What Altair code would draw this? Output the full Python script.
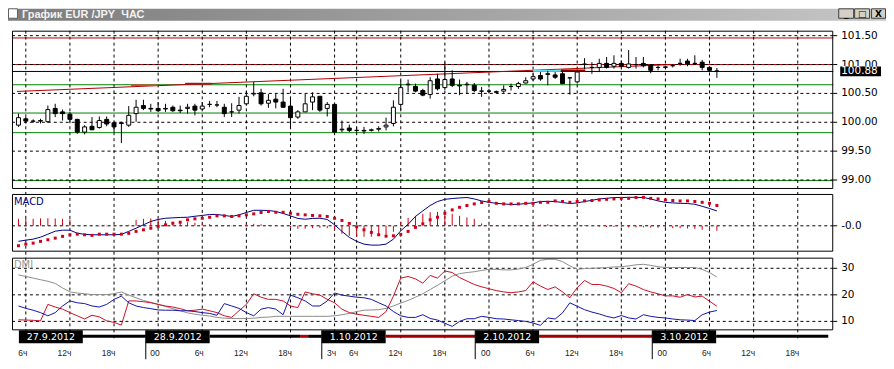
import altair as alt
import pandas as pd

W, H = 882, 353

# ---------------- data ----------------
slot = list(range(-1, 95))  # hourly bar index

open_p = [
    99.95, 100.06, 100.02, 100.02, 100.01, 100.24, 100.18, 100.14, 100.05, 99.83,
    99.93, 99.91, 100.05, 99.99, 99.99, 99.95, 100.15, 100.29, 100.24, 100.24,
    100.23, 100.26, 100.21, 100.24, 100.28, 100.23, 100.31, 100.30, 100.26, 100.18,
    100.21, 100.32, 100.49, 100.51, 100.33, 100.40, 100.35, 100.28, 100.09, 100.18,
    100.35, 100.45, 100.24, 100.31, 99.87, 99.90, 99.86, 99.85, 99.86, 99.88,
    99.92, 99.98, 100.31, 100.65, 100.62, 100.55, 100.48, 100.75, 100.60, 100.75,
    100.64, 100.65, 100.64, 100.54, 100.54, 100.53, 100.54, 100.62, 100.62, 100.68,
    100.75, 100.81, 100.84, 100.82, 100.84, 100.77, 100.70, 101.00, 100.95, 100.95,
    101.02, 100.97, 101.02, 100.95, 101.00, 101.02, 100.99, 100.95, 100.95, 100.98,
    101.02, 101.06, 101.02, 101.04, 100.95, 100.89]
high_p = [
    100.15, 100.09, 100.05, 100.06, 100.29, 100.32, 100.22, 100.18, 100.06, 99.95,
    100.09, 100.10, 100.10, 100.01, 100.01, 100.28, 100.39, 100.39, 100.32, 100.35,
    100.32, 100.29, 100.29, 100.32, 100.32, 100.35, 100.37, 100.37, 100.32, 100.33,
    100.44, 100.54, 100.70, 100.58, 100.49, 100.49, 100.58, 100.44, 100.21, 100.49,
    100.52, 100.45, 100.35, 100.31, 100.03, 99.96, 99.92, 99.92, 99.89, 99.93,
    100.08, 100.38, 100.72, 100.74, 100.67, 100.58, 100.78, 100.84, 101.04, 100.90,
    100.74, 100.70, 100.68, 100.61, 100.58, 100.55, 100.64, 100.67, 100.70, 100.78,
    100.84, 100.87, 100.89, 100.87, 100.87, 100.78, 100.89, 101.11, 101.04, 101.10,
    101.13, 101.16, 101.07, 101.25, 101.13, 101.13, 101.01, 100.98, 100.98, 101.01,
    101.10, 101.10, 101.16, 101.08, 100.97, 100.94]
low_p = [
    99.92, 99.98, 99.99, 99.98, 99.99, 100.09, 100.03, 100.01, 99.80, 99.79,
    99.89, 99.89, 99.93, 99.83, 99.64, 99.92, 100.01, 100.21, 100.18, 100.18,
    100.18, 100.18, 100.16, 100.15, 100.12, 100.21, 100.26, 100.26, 100.09, 100.09,
    100.15, 100.29, 100.45, 100.29, 100.25, 100.24, 100.25, 99.89, 100.06, 100.18,
    100.21, 100.18, 100.10, 99.83, 99.83, 99.83, 99.83, 99.80, 99.84, 99.84,
    99.86, 99.93, 100.21, 100.52, 100.52, 100.45, 100.41, 100.55, 100.56, 100.61,
    100.47, 100.49, 100.52, 100.44, 100.51, 100.51, 100.51, 100.55, 100.58, 100.67,
    100.72, 100.72, 100.64, 100.75, 100.66, 100.48, 100.67, 100.92, 100.84, 100.87,
    100.93, 100.93, 100.95, 100.93, 100.93, 100.95, 100.85, 100.90, 100.93, 100.95,
    100.98, 100.97, 101.00, 100.90, 100.87, 100.77]
close_p = [
    100.08, 100.02, 100.02, 100.03, 100.22, 100.15, 100.15, 100.05, 99.83, 99.92,
    99.87, 100.03, 99.97, 99.92, 99.98, 100.12, 100.26, 100.24, 100.23, 100.20,
    100.24, 100.20, 100.20, 100.26, 100.21, 100.28, 100.31, 100.30, 100.15, 100.18,
    100.29, 100.45, 100.50, 100.32, 100.38, 100.35, 100.26, 100.08, 100.18, 100.32,
    100.44, 100.21, 100.31, 99.83, 99.88, 99.86, 99.86, 99.86, 99.87, 99.89,
    99.95, 100.26, 100.60, 100.66, 100.54, 100.47, 100.72, 100.58, 100.74, 100.64,
    100.63, 100.66, 100.55, 100.54, 100.54, 100.52, 100.57, 100.62, 100.67, 100.72,
    100.79, 100.75, 100.83, 100.78, 100.67, 100.77, 100.87, 101.01, 100.95, 101.02,
    100.95, 101.02, 100.97, 101.01, 101.00, 100.98, 100.90, 100.95, 100.96, 100.98,
    101.02, 101.01, 101.02, 100.95, 100.90, 100.88]

macd = [
    -0.078, -0.072, -0.067, -0.057, -0.042, -0.027, -0.022, -0.022, -0.037, -0.043,
    -0.045, -0.045, -0.045, -0.045, -0.043, -0.028, -0.012, 0.005, 0.022, 0.032,
    0.038, 0.040, 0.042, 0.043, 0.048, 0.052, 0.057, 0.057, 0.052, 0.047,
    0.055, 0.067, 0.078, 0.078, 0.077, 0.072, 0.062, 0.050, 0.037, 0.033,
    0.037, 0.038, 0.032, 0.005, -0.028, -0.058, -0.078, -0.092, -0.097, -0.097,
    -0.092, -0.067, -0.025, 0.008, 0.047, 0.075, 0.102, 0.122, 0.133, 0.137,
    0.140, 0.142, 0.135, 0.125, 0.118, 0.113, 0.110, 0.107, 0.108, 0.112,
    0.115, 0.122, 0.123, 0.122, 0.117, 0.112, 0.115, 0.122, 0.128, 0.135,
    0.138, 0.142, 0.142, 0.143, 0.143, 0.142, 0.135, 0.125, 0.118, 0.115,
    0.113, 0.112, 0.108, 0.098, 0.087, 0.075]
signal = [
    -0.100, -0.092, -0.087, -0.078, -0.070, -0.062, -0.053, -0.045, -0.042, -0.045,
    -0.048, -0.042, -0.042, -0.042, -0.042, -0.038, -0.028, -0.020, -0.012, -0.003,
    0.005, 0.013, 0.018, 0.030, 0.035, 0.038, 0.043, 0.050, 0.050, 0.047,
    0.050, 0.055, 0.060, 0.067, 0.072, 0.068, 0.068, 0.063, 0.058, 0.055,
    0.052, 0.050, 0.047, 0.038, 0.027, 0.012, -0.005, -0.020, -0.033, -0.045,
    -0.052, -0.050, -0.043, -0.028, -0.008, 0.010, 0.030, 0.043, 0.063, 0.080,
    0.093, 0.102, 0.110, 0.117, 0.122, 0.113, 0.110, 0.110, 0.110, 0.113,
    0.113, 0.118, 0.118, 0.125, 0.122, 0.118, 0.122, 0.125, 0.127, 0.130,
    0.133, 0.135, 0.138, 0.138, 0.142, 0.143, 0.138, 0.135, 0.130, 0.127,
    0.125, 0.125, 0.122, 0.118, 0.113, 0.102]
hist = [
    0.035, 0.037, 0.035, 0.037, 0.038, 0.037, 0.035, 0.032, 0.003, 0.002,
    0.002, -0.002, -0.002, -0.002, -0.001, 0.005, 0.030, 0.035, 0.037, 0.035,
    0.025, 0.020, 0.020, 0.018, 0.015, 0.010, 0.008, 0.005, 0.002, -0.002,
    0.003, 0.008, 0.010, 0.008, 0.004, 0.002, -0.004, -0.010, -0.015, -0.015,
    -0.012, -0.010, -0.012, -0.020, -0.040, -0.050, -0.055, -0.055, -0.055, -0.050,
    -0.045, -0.030, 0.020, 0.040, 0.050, 0.060, 0.068, 0.070, 0.070, 0.060,
    0.050, 0.042, 0.035, 0.012, 0.005, 0.003, 0.002, 0.002, 0.003, 0.004,
    0.005, 0.006, 0.008, 0.006, 0.003, 0.002, 0.002, 0.003, 0.002, -0.004,
    -0.006, -0.006, -0.007, -0.008, -0.008, -0.008, -0.009, -0.010, -0.011, -0.012,
    -0.012, -0.013, -0.015, -0.020, -0.025, -0.025]

adx = [
    27.5, 26.9, 26.3, 25.7, 25.1, 24.3, 22.6, 21.1, 20.7, 20.4,
    20.1, 20.1, 20.1, 20.4, 21.1, 19.9, 18.9, 17.9, 17.2, 16.4,
    15.6, 14.8, 14.0, 13.2, 12.7, 12.3, 12.0, 11.5, 11.2, 11.1,
    11.1, 11.1, 11.2, 11.5, 11.6, 11.9, 11.9, 11.9, 11.9, 11.9,
    11.9, 11.9, 11.9, 12.1, 12.5, 13.0, 13.7, 14.2, 14.3, 14.4,
    14.9, 15.8, 16.9, 17.9, 19.1, 20.4, 22.0, 23.6, 25.3, 27.0,
    28.0, 28.4, 28.7, 29.2, 29.6, 29.6, 29.4, 29.4, 29.7, 30.3,
    31.5, 33.0, 33.4, 33.4, 32.5, 30.9, 29.6, 29.9, 30.0, 30.1,
    30.3, 30.5, 30.6, 30.9, 31.3, 31.5, 31.1, 30.6, 30.3, 30.3,
    30.3, 30.3, 30.3, 29.6, 28.4, 26.7]
plus_di = [
    10.6, 10.5, 10.4, 10.2, 16.4, 15.4, 14.6, 13.3, 12.1, 10.9,
    12.3, 11.7, 10.2, 9.6, 8.6, 17.7, 17.7, 17.4, 17.0, 16.4,
    15.8, 15.4, 14.8, 14.0, 14.2, 14.6, 14.0, 13.3, 12.1, 11.5,
    14.0, 16.4, 20.4, 19.1, 18.3, 18.3, 17.7, 15.8, 15.2, 21.1,
    20.4, 19.9, 18.3, 17.0, 14.6, 13.3, 12.7, 12.3, 11.9, 11.5,
    13.7, 19.5, 26.3, 26.9, 26.0, 24.4, 27.3, 26.3, 29.0, 28.4,
    26.5, 25.2, 23.9, 23.0, 22.3, 21.6, 21.1, 20.8, 21.1, 21.6,
    24.9, 23.3, 22.0, 23.0, 21.1, 18.9, 22.7, 25.4, 23.9, 23.9,
    23.3, 22.4, 20.8, 24.2, 23.3, 22.0, 21.1, 20.4, 19.6, 19.6,
    19.1, 20.1, 19.2, 19.5, 17.6, 15.7]
minus_di = [
    15.8, 14.9, 14.2, 13.3, 12.1, 13.3, 15.8, 17.7, 17.0, 16.7,
    15.8, 15.4, 16.4, 18.3, 19.5, 17.0, 15.8, 15.2, 14.8, 14.3,
    14.2, 14.2, 14.0, 14.0, 13.7, 13.3, 13.0, 12.3, 16.7, 15.8,
    14.9, 13.3, 12.1, 14.6, 15.2, 14.6, 12.5, 19.9, 18.9, 17.7,
    15.8, 15.8, 17.7, 20.7, 19.9, 19.5, 19.1, 18.9, 18.3, 17.0,
    15.8, 13.7, 12.1, 11.5, 11.5, 12.5, 11.1, 10.5, 9.3, 8.1,
    10.0, 11.0, 11.0, 11.9, 11.5, 11.0, 10.9, 10.6, 10.3, 10.0,
    9.4, 8.5, 11.3, 10.9, 13.2, 17.0, 15.7, 14.4, 13.5, 12.8,
    11.9, 11.3, 12.2, 11.3, 10.9, 12.5, 11.9, 11.5, 11.3, 10.9,
    10.6, 10.5, 10.3, 12.5, 13.5, 14.1]

price_grid = [99.0, 99.5, 100.0, 100.5, 101.0, 101.5]
price_ticks = [101.5, 101.0, 100.5, 100.0, 99.5, 99.0]
price_tick_text = ["101.50", "101.00", "100.50", "100.00", "99.50", "99.00"]
green_levels = [100.65, 100.16, 99.82, 98.99]
red_levels = [101.0, 101.46]
last_price = [100.88]
last_price_text = ["100.88"]
trend_s = [-1.204, 88.0]
trend_p = [100.534, 101.0]
seg_s0 = [14.31, 21.67, 69.0, 72.77]
seg_s1 = [17.92, 25.28, 72.77, 76.1]
seg_p = [100.645, 100.667, 100.891, 100.897]
seg_col = ["#9a6a30", "#a01818", "#66dcef", "#8b0000"]

macd_ticks = [0.0]
macd_tick_text = ["-0.0"]
dmi_ticks = [30, 20, 10]
dmi_tick_text = ["30", "20", "10"]

grid_slots = [0, 6, 12, 18, 24, 30, 36, 42, 45, 51, 57, 63, 69, 75, 81, 87, 93, 99, 105]
hour_text = ["6ч", "12ч", "18ч", "00", "6ч", "12ч", "18ч", "3ч", "6ч", "12ч", "18ч",
             "00", "6ч", "12ч", "18ч", "00", "6ч", "12ч", "18ч"]
day_text = ["27.9.2012", "28.9.2012", "1.10.2012", "2.10.2012", "3.10.2012"]
day_start = [-0.94, 16.32, 40.26, 61.13, 85.21]
daybar_s0 = [7.62, 25.01, 37.3, 38.4, 48.96, 69.82, 93.9]
daybar_s1 = [16.32, 37.3, 38.4, 40.26, 61.13, 85.21, 109.15]
daybar_col = ["#000000", "#000000", "#b00000", "#000000", "#a00000", "#a00000", "#000000"]

# ---------------- scales ----------------
XS = alt.Scale(domain=[-1.204, 109.15], range=[4, 829], nice=False, zero=False)
PS = alt.Scale(domain=[98.862, 101.586], range=[180, 22], nice=False, zero=False)
MS = alt.Scale(domain=[-0.125, 0.16], range=[243, 186], nice=False, zero=False)
DS = alt.Scale(domain=[7.0, 34.0], range=[322, 250], nice=False, zero=False)


def xq(f):
    return alt.X(f"{f}:Q", scale=XS, axis=None)


def yq(f, sc):
    return alt.Y(f"{f}:Q", scale=sc, axis=None)


one = pd.DataFrame({"k": [0]})
bars = pd.DataFrame({"s": slot, "o": open_p, "h": high_p, "l": low_p, "c": close_p,
                     "macd": macd, "sig": signal, "hist": hist,
                     "adx": adx, "pdi": plus_di, "mdi": minus_di})


def prect(x0, x1, y0, y1, **kw):
    return alt.Chart(one).mark_rect(**kw).encode(
        x=alt.value(x0), x2=alt.value(x1), y=alt.value(y0), y2=alt.value(y1))


def ptext(txt, x, y, **kw):
    return alt.Chart(one).mark_text(text=txt, **kw).encode(x=alt.value(x), y=alt.value(y))


L = []
# ---- window chrome ----
L.append(prect(0, W, 0, 12, fill=alt.LinearGradient(
    gradient="linear", x1=0, x2=1, y1=0, y2=0,
    stops=[alt.GradientStop(color="#7c7c7c", offset=0),
           alt.GradientStop(color="#c6c6c6", offset=1)])))
L.append(prect(0.5, 9.5, 0, 9.5, fill="white", stroke="#606060", strokeWidth=1))
L.append(ptext("График EUR /JPY\u00a0\u00a0ЧАС", 14, 9, align="left", baseline="alphabetic",
               font="Liberation Sans", fontWeight="bold", fontSize=11, color="#f2f2f2"))
for bx0, bx1, g in [(834, 849, "_"), (850, 865, "□"), (867, 881, "X")]:
    L.append(prect(bx0 + 0.5, bx1 + 0.5, 0, 9.5, fill="#d4d0c8", stroke="#404040", strokeWidth=1))
    L.append(ptext(g, (bx0 + bx1) / 2 + 0.5, 8, align="center", baseline="alphabetic",
                   font="DejaVu Sans", fontWeight="bold", fontSize=9, color="black"))

# ---- main panel ----
L.append(alt.Chart(pd.DataFrame({"p": green_levels})).mark_rule(color="#008000", strokeWidth=1).encode(
    y=yq("p", PS), x=alt.value(4), x2=alt.value(829)))
L.append(alt.Chart(pd.DataFrame({"p": red_levels})).mark_rule(color="#b00000", strokeWidth=1).encode(
    y=yq("p", PS), x=alt.value(4), x2=alt.value(829)))
L.append(alt.Chart(pd.DataFrame({"s": grid_slots})).mark_rule(
    color="black", strokeDash=[3, 3], strokeWidth=1).encode(
    x=xq("s"), y=alt.value(22), y2=alt.value(333)))
L.append(alt.Chart(pd.DataFrame({"p": price_grid})).mark_rule(
    color="black", strokeDash=[3, 3], strokeWidth=1).encode(
    y=yq("p", PS), x=alt.value(4), x2=alt.value(829)))
L.append(alt.Chart(pd.DataFrame({"p": last_price})).mark_rule(color="black", strokeWidth=1).encode(
    y=yq("p", PS), x=alt.value(4), x2=alt.value(829)))
L.append(alt.Chart(pd.DataFrame({"s": trend_s, "p": trend_p})).mark_line(
    color="#b00000", strokeWidth=1).encode(x=xq("s"), y=yq("p", PS)))
L.append(alt.Chart(pd.DataFrame({"s0": seg_s0, "s1": seg_s1, "p": seg_p, "col": seg_col})).mark_rule(
    strokeWidth=2).encode(x=xq("s0"), x2=alt.X2("s1"), y=yq("p", PS),
                          color=alt.Color("col:N", scale=None)))
L.append(alt.Chart(bars).mark_rule(color="black", strokeWidth=1).encode(
    x=xq("s"), y=yq("l", PS), y2=alt.Y2("h")))
L.append(alt.Chart(bars).transform_filter("datum.c >= datum.o").mark_bar(
    size=4, fill="white", stroke="black", strokeWidth=1).encode(
    x=xq("s"), y=yq("o", PS), y2=alt.Y2("c")))
L.append(alt.Chart(bars).transform_filter("datum.c < datum.o").mark_bar(
    size=4, fill="black", stroke="black", strokeWidth=1).encode(
    x=xq("s"), y=yq("o", PS), y2=alt.Y2("c")))

# ---- MACD panel ----
L.append(alt.Chart(pd.DataFrame({"v": macd_ticks})).mark_rule(
    color="black", strokeDash=[3, 3], strokeWidth=1).encode(
    y=yq("v", MS), x=alt.value(4), x2=alt.value(829)))
L.append(alt.Chart(bars).mark_rule(color="#cc0010", strokeWidth=1).encode(
    x=xq("s"), y=yq("hist", MS), y2=alt.datum(0)))
L.append(alt.Chart(bars).mark_line(color="#000080", strokeWidth=1).encode(
    x=xq("s"), y=yq("macd", MS)))
L.append(alt.Chart(bars).mark_square(size=9, color="#d0001c", opacity=1).encode(
    x=xq("s"), y=yq("sig", MS)))

# ---- DMI panel ----
L.append(alt.Chart(pd.DataFrame({"v": dmi_ticks})).mark_rule(
    color="black", strokeDash=[3, 3], strokeWidth=1).encode(
    y=yq("v", DS), x=alt.value(4), x2=alt.value(829)))
L.append(alt.Chart(bars).mark_line(color="#8c8c8c", strokeWidth=1).encode(x=xq("s"), y=yq("adx", DS)))
L.append(alt.Chart(bars).mark_line(color="#cc1024", strokeWidth=1).encode(x=xq("s"), y=yq("pdi", DS)))
L.append(alt.Chart(bars).mark_line(color="#1414a8", strokeWidth=1).encode(x=xq("s"), y=yq("mdi", DS)))

# ---- frames ----
for fy0, fy1 in [(22.5, 180.5), (186.5, 243.5), (250.5, 322.5)]:
    L.append(prect(4.5, 828.5, fy0, fy1, fill="white", fillOpacity=0, stroke="black", strokeWidth=1))

L.append(ptext("MACD", 6, 197, align="left", baseline="alphabetic", font="DejaVu Sans",
               fontSize=10, color="#000080"))
L.append(ptext("DMI", 6, 260, align="left", baseline="alphabetic", font="DejaVu Sans",
               fontSize=10, color="#999999"))

# ---- right-hand scales ----
lab = dict(align="left", baseline="middle", font="DejaVu Sans", fontSize=10.5, color="black")
L.append(alt.Chart(pd.DataFrame({"p": price_ticks, "t": price_tick_text})).mark_text(**lab).encode(
    x=alt.value(837), y=yq("p", PS), text="t:N"))
L.append(alt.Chart(pd.DataFrame({"p": price_ticks})).mark_rule(color="black").encode(
    x=alt.value(829), x2=alt.value(833), y=yq("p", PS)))
L.append(alt.Chart(pd.DataFrame({"v": macd_ticks, "t": macd_tick_text})).mark_text(**lab).encode(
    x=alt.value(837), y=yq("v", MS), text="t:N"))
L.append(alt.Chart(pd.DataFrame({"v": macd_ticks})).mark_rule(color="black").encode(
    x=alt.value(829), x2=alt.value(833), y=yq("v", MS)))
L.append(alt.Chart(pd.DataFrame({"v": dmi_ticks, "t": dmi_tick_text})).mark_text(**lab).encode(
    x=alt.value(837), y=yq("v", DS), text="t:N"))
L.append(alt.Chart(pd.DataFrame({"v": dmi_ticks})).mark_rule(color="black").encode(
    x=alt.value(829), x2=alt.value(833), y=yq("v", DS)))
lp = pd.DataFrame({"p": last_price, "t": last_price_text})
L.append(alt.Chart(lp).transform_calculate(top="datum.p + 0.085", bot="datum.p - 0.085").mark_rect(
    color="black").encode(x=alt.value(836), x2=alt.value(877), y=yq("top", PS), y2=alt.Y2("bot")))
L.append(alt.Chart(lp).mark_text(align="left", baseline="middle", font="DejaVu Sans",
                                 fontSize=10.5, color="white").encode(
    x=alt.value(837), y=yq("p", PS), text="t:N"))

# ---- time axis ----
L.append(alt.Chart(pd.DataFrame({"s0": daybar_s0, "s1": daybar_s1, "col": daybar_col})).mark_rule(
    strokeWidth=3).encode(x=xq("s0"), x2=alt.X2("s1"), y=alt.value(329),
                          color=alt.Color("col:N", scale=None)))
days = pd.DataFrame({"s0": day_start, "t": day_text})
L.append(alt.Chart(pd.DataFrame({"s": day_start[1:]})).mark_rule(color="black", strokeWidth=1).encode(
    x=xq("s"), y=alt.value(323), y2=alt.value(352)))
L.append(alt.Chart(days).transform_calculate(s1="datum.s0 + 8.69").mark_rect(color="black").encode(
    x=xq("s0"), x2=alt.X2("s1"), y=alt.value(323), y2=alt.value(336)))
L.append(alt.Chart(days).transform_calculate(sm="datum.s0 + 4.35").mark_text(
    align="center", baseline="alphabetic", font="DejaVu Sans", fontSize=9.5, color="white").encode(
    x=xq("sm"), y=alt.value(333), text="t:N"))
L.append(alt.Chart(pd.DataFrame({"s": grid_slots, "t": hour_text})).mark_text(
    align="right", baseline="alphabetic", dx=1.5, font="Liberation Sans", fontSize=8.5,
    color="#222222").encode(x=xq("s"), y=alt.value(349), text="t:N"))

chart = alt.layer(*L).resolve_scale(y="independent").properties(
    width=W, height=H, padding=0, background="white",
    autosize=alt.AutoSizeParams(type="none")).configure_view(strokeOpacity=0)

chart.save("out.html", embed_options={"renderer": "svg", "actions": False})
